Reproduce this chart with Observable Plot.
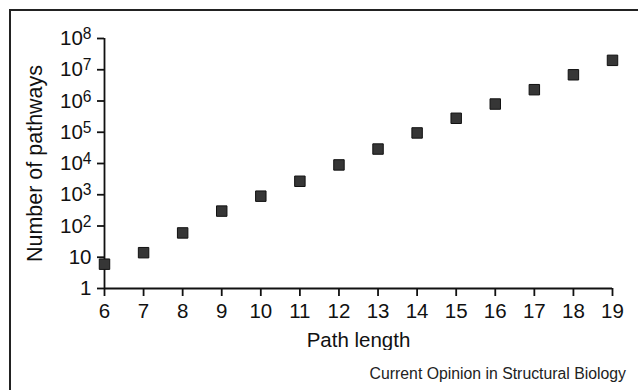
<!DOCTYPE html>
<html>
<head>
<meta charset="utf-8">
<script src="https://cdn.jsdelivr.net/npm/d3@7"></script>
<script src="https://cdn.jsdelivr.net/npm/@observablehq/plot@0.6"></script>
<style>
  html, body { margin: 0; padding: 0; background: #fff; }
  body { width: 638px; height: 390px; position: relative; overflow: hidden; font-family: "Liberation Sans", Arial, sans-serif; }
  #frame { position: absolute; left: 9px; top: 9px; width: 660px; height: 420px; border-top: 2px solid #222; border-left: 2px solid #222; }
  #chart { position: absolute; left: 0; top: 0; }
  #caption { position: absolute; right: 12px; top: 365px; font-size: 15.8px; color: #222; white-space: nowrap; }
</style>
</head>
<body>
<div id="frame"></div>
<div id="chart"></div>
<div id="caption">Current Opinion in Structural Biology</div>
<script>
// Data
const pathLengths = [6, 7, 8, 9, 10, 11, 12, 13, 14, 15, 16, 17, 18, 19];
const pathwayCounts = [6, 14, 60, 300, 900, 2700, 9000, 29000, 95000, 280000, 800000, 2300000, 6900000, 20000000];
const yTicks = [1, 10, 1e2, 1e3, 1e4, 1e5, 1e6, 1e7, 1e8];
const yTickExponents = [0, 1, 2, 3, 4, 5, 6, 7, 8];
const xLabel = "Path length";
const yLabel = "Number of pathways";

const data = pathLengths.map((x, i) => ({x, y: pathwayCounts[i]}));

const fmtY = v => {
  const e = yTickExponents[yTicks.indexOf(v)];
  if (e === 0) return "1";
  if (e === 1) return "10";
  return "10^" + e;
};

const chart = Plot.plot({
  width: 638,
  height: 350,
  marginLeft: 104,
  marginRight: 26,
  marginTop: 38,
  marginBottom: 62,
  style: {fontFamily: "'Liberation Sans', Arial, sans-serif", background: "transparent", color: "#111"},
  x: {domain: [6, 19]},
  y: {type: "log", domain: [1, 1e8]},
  marks: [
    Plot.axisX({ticks: pathLengths, tickFormat: d => String(d), tickSize: 8, tickPadding: 7, strokeWidth: 1.8, label: null}),
    Plot.axisY({ticks: yTicks, tickFormat: fmtY, tickSize: 7, tickPadding: 6, strokeWidth: 1.8, label: null}),
    Plot.ruleX([6], {strokeWidth: 1.8, stroke: "#111"}),
    Plot.ruleY([1], {strokeWidth: 1.8, stroke: "#111"}),
    Plot.text([xLabel], {frameAnchor: "bottom", dy: 58, fontSize: 20.5, fill: "#111"}),
    Plot.text([yLabel], {frameAnchor: "left", textAnchor: "middle", rotate: -90, dx: -69, fontSize: 21.5, fill: "#111"}),
    Plot.dot(data, {x: "x", y: "y", symbol: "square", r: 5.9, fill: "#363636", stroke: "#111", strokeWidth: 1})
  ]
});

// Tick label font size
chart.querySelectorAll('g[aria-label="x-axis tick label"], g[aria-label="y-axis tick label"]').forEach(g => {
  g.setAttribute("font-size", "20.5");
  g.style.fontSize = "20.5px";
});

// Render exponents as superscripts
chart.querySelectorAll("text").forEach(t => {
  const s = t.textContent;
  const m = /^10\^(\d)$/.exec(s);
  if (m) {
    t.textContent = "10";
    const ts = document.createElementNS("http://www.w3.org/2000/svg", "tspan");
    ts.setAttribute("dy", "-0.38em");
    ts.setAttribute("font-size", "0.76em");
    ts.textContent = m[1];
    t.appendChild(ts);
  }
});

document.getElementById("chart").appendChild(chart);
</script>
</body>
</html>
